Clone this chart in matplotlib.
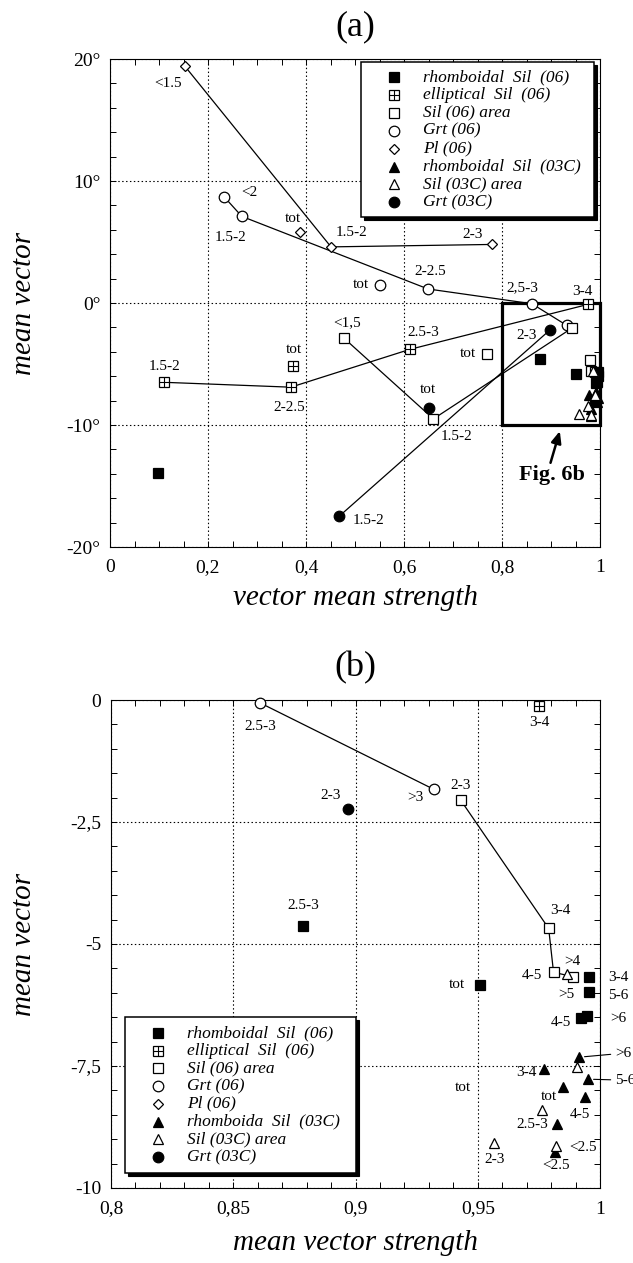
import matplotlib
matplotlib.use('Agg')
import matplotlib.pyplot as plt
from matplotlib.patches import Rectangle
from matplotlib.lines import Line2D
from matplotlib.ticker import MultipleLocator

plt.rcParams['font.family'] = ['Liberation Serif', 'DejaVu Serif']

W, H = 633, 1263

# ======================= DATA =======================
# rhomboidal Sil (06)
rsil06_x = [0.098, 0.8785, 0.951, 0.9955, 0.9955, 0.9922, 0.9947]
rsil06_y = [-13.9, -4.63, -5.84, -5.68, -5.99, -6.52, -6.48]
rsil06_id = ['', '2.5-3', 'tot', '3-4', '5-6', '4-5', '>6']
# elliptical Sil (06)
esil06_x = [0.110, 0.369, 0.612, 0.975, 0.373]
esil06_y = [-6.5, -6.9, -3.8, -0.12, -5.2]
esil06_id = ['1.5-2', '2-2.5', '2.5-3', '3-4', 'tot']
# Sil (06) area
sil06_x = [0.478, 0.660, 0.943, 0.769, 0.979, 0.981, 0.989]
sil06_y = [-2.9, -9.5, -2.05, -4.2, -4.68, -5.58, -5.67]
sil06_id = ['<1,5', '1.5-2', '2-3', 'tot', '3-4', '4-5', '>4']
# Grt (06)
grt06_x = [0.233, 0.269, 0.649, 0.861, 0.932, 0.551]
grt06_y = [8.7, 7.1, 1.15, -0.06, -1.83, 1.5]
grt06_id = ['<2', '1.5-2', '2-2.5', '2,5-3', '>3', 'tot']
# Pl (06)
pl06_x = [0.153, 0.451, 0.780, 0.388]
pl06_y = [19.4, 4.6, 4.8, 5.8]
pl06_id = ['<1.5', '1.5-2', '2-3', 'tot']
# rhomboidal Sil (03C)
rsil03_x = [0.9914, 0.9771, 0.9951, 0.985, 0.9939, 0.9823, 0.9815]
rsil03_y = [-7.32, -7.56, -7.77, -7.94, -8.14, -8.68, -9.26]
rsil03_id = ['>6', '3-4', '5-6', 'tot', '4-5', '2.5-3', '<2.5']
# Sil (03C) area
sil03_x = [0.9865, 0.9906, 0.9762, 0.982, 0.9568]
sil03_y = [-5.61, -7.52, -8.41, -9.14, -9.07]
sil03_id = ['', '', 'tot', '<2.5', '2-3']
# Grt (03C)
grt03_x = [0.468, 0.897, 0.651]
grt03_y = [-17.47, -2.24, -8.6]
grt03_id = ['1.5-2', '2-3', 'tot']

# connected sequences
paths_a = [('pl06', ['<1.5', '1.5-2', '2-3']),
           ('grt06', ['<2', '1.5-2', '2-2.5', '2,5-3', '>3']),
           ('esil06', ['1.5-2', '2-2.5', '2.5-3', '3-4']),
           ('sil06', ['<1,5', '1.5-2', '2-3']),
           ('grt03', ['1.5-2', '2-3'])]
paths_b = [('grt06', ['2,5-3', '>3']),
           ('sil06', ['2-3', '3-4', '4-5', '>4'])]

legend_a = ['rhomboidal  Sil  (06)', 'elliptical  Sil  (06)', 'Sil (06) area', 'Grt (06)',
            'Pl (06)', 'rhomboidal  Sil  (03C)', 'Sil (03C) area', 'Grt (03C)']
legend_b = ['rhomboidal  Sil  (06)', 'elliptical  Sil  (06)', 'Sil (06) area', 'Grt (06)',
            'Pl (06)', 'rhomboida  Sil  (03C)', 'Sil (03C) area', 'Grt (03C)']

a_xticks = [0, 0.2, 0.4, 0.6, 0.8, 1.0]
a_xticklabels = ['0', '0,2', '0,4', '0,6', '0,8', '1']
a_yticks = [-20, -10, 0, 10, 20]
a_yticklabels = ['-20°', '-10°', '0°', '10°', '20°']
b_xticks = [0.8, 0.85, 0.9, 0.95, 1.0]
b_xticklabels = ['0,8', '0,85', '0,9', '0,95', '1']
b_yticks = [-10, -7.5, -5, -2.5, 0]
b_yticklabels = ['-10', '-7,5', '-5', '-2,5', '0']

# ======================= LAYOUT / STYLE =======================
SERIES = {
    'rsil06': (rsil06_x, rsil06_y, rsil06_id),
    'esil06': (esil06_x, esil06_y, esil06_id),
    'sil06': (sil06_x, sil06_y, sil06_id),
    'grt06': (grt06_x, grt06_y, grt06_id),
    'pl06': (pl06_x, pl06_y, pl06_id),
    'rsil03': (rsil03_x, rsil03_y, rsil03_id),
    'sil03': (sil03_x, sil03_y, sil03_id),
    'grt03': (grt03_x, grt03_y, grt03_id),
}
KEYS = ['rsil06', 'esil06', 'sil06', 'grt06', 'pl06', 'rsil03', 'sil03', 'grt03']
DRAW_ORDER = ['grt06', 'pl06', 'esil06', 'sil06', 'rsil06', 'grt03', 'rsil03', 'sil03']
STYLE = {
    'rsil06': dict(marker='s', ms=7.2, mfc='k'),
    'esil06': dict(marker='s', ms=7.2, mfc='w', cross=True),
    'sil06': dict(marker='s', ms=7.2, mfc='w'),
    'grt06': dict(marker='o', ms=7.6, mfc='w'),
    'pl06': dict(marker='D', ms=5.0, mfc='w'),
    'rsil03': dict(marker='^', ms=7.4, mfc='k'),
    'sil03': dict(marker='^', ms=7.4, mfc='w'),
    'grt03': dict(marker='o', ms=7.6, mfc='k'),
}

# label placement: (series, point id, text, dx px, dy px, leader)
labels_a = [
    ('pl06', '<1.5', '<1.5', -17, -17, False),
    ('pl06', '1.5-2', '1.5-2', 21, 14, False),
    ('pl06', '2-3', '2-3', -20, 10, False),
    ('pl06', 'tot', 'tot', -7, 14, False),
    ('grt06', '<2', '<2', 25, 4, False),
    ('grt06', '1.5-2', '1.5-2', -11, -21, False),
    ('grt06', '2-2.5', '2-2.5', 2, 17, False),
    ('grt06', '2,5-3', '2,5-3', -10, 16, False),
    ('grt06', 'tot', 'tot', -19, 0, False),
    ('esil06', '1.5-2', '1.5-2', 1, 16, False),
    ('esil06', '2-2.5', '2-2.5', -2, -20, False),
    ('esil06', '2.5-3', '2.5-3', 13, 17, False),
    ('esil06', '3-4', '3-4', -5, 13, False),
    ('esil06', 'tot', 'tot', 1, 17, False),
    ('sil06', '<1,5', '<1,5', 3, 16, False),
    ('sil06', '1.5-2', '1.5-2', 23, -18, False),
    ('sil06', 'tot', 'tot', -19, 1, False),
    ('grt03', '1.5-2', '1.5-2', 29, -4, False),
    ('grt03', 'tot', 'tot', -1, 18, False),
    ('grt03', '2-3', '2-3', -23, -5, False),
]
labels_b = [
    ('grt06', '2,5-3', '2.5-3', 0, -24, False),
    ('grt06', '>3', '>3', -18, -8, False),
    ('grt03', '2-3', '2-3', -18, 14, False),
    ('esil06', '3-4', '3-4', 0, -17, False),
    ('sil06', '2-3', '2-3', 0, 15, False),
    ('sil06', '3-4', '3-4', 12, 18, False),
    ('sil06', '4-5', '4-5', -22, -3, False),
    ('sil06', '>4', '>4', -1, 15, False),
    ('rsil06', '2.5-3', '2.5-3', 0, 20, False),
    ('rsil06', 'tot', 'tot', -23, 0, False),
    ('rsil06', '3-4', '3-4', 29, 0, False),
    ('rsil06', '5-6', '5-6', 29, -3, False),
    ('rsil06', '5-6', '>5', -23, -2, False),
    ('rsil06', '4-5', '4-5', -20, -4, False),
    ('rsil06', '>6', '>6', 31, -2, False),
    ('rsil03', '>6', '>6', 44, 4, True),
    ('rsil03', '3-4', '3-4', -18, -4, False),
    ('rsil03', '5-6', '5-6', 37, -1, True),
    ('rsil03', 'tot', 'tot', -100, 0, False),
    ('rsil03', '4-5', '4-5', -5, -17, False),
    ('rsil03', '2.5-3', '2.5-3', -24, -1, False),
    ('rsil03', '<2.5', '<2.5', 1, -14, False),
    ('sil03', 'tot', 'tot', 7, 14, False),
    ('sil03', '<2.5', '<2.5', 27, -1, False),
    ('sil03', '2-3', '2-3', 0, -17, False),
]

PT = 0.72  # points per pixel (dpi 100)

fig = plt.figure(figsize=(W / 100, H / 100), dpi=100)
axA = fig.add_axes([110 / W, 1 - 547 / H, 490 / W, 488 / H])
axB = fig.add_axes([111 / W, 1 - 1188 / H, 489 / W, 488 / H])


def setup(ax, xlim, ylim, xt, xtl, yt, ytl, xminor, yminor):
    ax.set_xlim(*xlim)
    ax.set_ylim(*ylim)
    ax.set_xticks(xt)
    ax.set_xticklabels(xtl)
    ax.set_yticks(yt)
    ax.set_yticklabels(ytl)
    ax.xaxis.set_minor_locator(MultipleLocator(xminor))
    ax.yaxis.set_minor_locator(MultipleLocator(yminor))
    ax.tick_params(which='both', direction='in', top=True, right=True,
                   length=4, width=0.7, labelsize=14)
    ax.tick_params(axis='x', pad=9)
    ax.tick_params(axis='y', pad=7)
    ax.grid(True, which='major', ls=(0, (1.3, 2.2)), lw=0.8, color='k')
    for s in ax.spines.values():
        s.set_linewidth(0.8)


setup(axA, (0, 1), (-20, 20), a_xticks, a_xticklabels, a_yticks, a_yticklabels, 0.05, 2)
setup(axB, (0.8, 1), (-10, 0), b_xticks, b_xticklabels, b_yticks, b_yticklabels, 0.01, 0.5)


def draw_panel(ax, paths, labels, xlim, ylim):
    for key, seq in paths:
        x, y, ids = SERIES[key]
        xs = [x[ids.index(p)] for p in seq]
        ys = [y[ids.index(p)] for p in seq]
        ax.plot(xs, ys, color='k', lw=0.9, zorder=2)
    for key in DRAW_ORDER:
        x, y, ids = SERIES[key]
        pts = [(a, b) for a, b in zip(x, y)
               if xlim[0] <= a <= xlim[1] and ylim[0] <= b <= ylim[1]]
        if not pts:
            continue
        xs, ys = zip(*pts)
        st = STYLE[key]
        ax.plot(xs, ys, ls='none', marker=st['marker'], ms=st['ms'],
                mfc=st['mfc'], mec='k', mew=0.9, zorder=3, clip_on=False)
        if st.get('cross'):
            ax.plot(xs, ys, ls='none', marker='+', ms=st['ms'], mec='k',
                    mew=0.8, zorder=3.1, clip_on=False)
    for key, pid, txt, dx, dy, leader in labels:
        x, y, ids = SERIES[key]
        i = ids.index(pid)
        kw = {}
        if leader:
            kw['arrowprops'] = dict(arrowstyle='-', lw=0.8, color='k',
                                    shrinkA=1, shrinkB=4)
        ax.annotate(txt, (x[i], y[i]), xytext=(dx * PT, dy * PT),
                    textcoords='offset points', ha='center', va='center',
                    fontsize=11, zorder=4, annotation_clip=False, **kw)


draw_panel(axA, paths_a, labels_a, (0, 1), (-20, 20))
draw_panel(axB, paths_b, labels_b, (0.8, 1), (-10, 0))

# Fig. 6b box and arrow in panel (a)
axA.add_patch(Rectangle((0.8, -10), 0.2, 10, fill=False, lw=2.3, ec='k',
                        zorder=2.5, clip_on=False))
axA.annotate('', xy=(0.918, -10.5), xytext=(0.899, -13.1),
             arrowprops=dict(arrowstyle='-|>,head_length=0.7,head_width=0.3',
                             lw=1.8, color='k', shrinkA=0, shrinkB=0))
axA.text(0.901, -14.1, 'Fig. 6b', fontweight='bold', fontsize=16,
         ha='center', va='center')


def legend_box(x0, y0, x1, y1, mx, tx, ry0, dy, labels):
    fig.add_artist(Rectangle((x0 / W + 3 / W, 1 - (y1 + 3) / H), (x1 - x0) / W, (y1 - y0) / H,
                             transform=fig.transFigure, fc='k', ec='k', lw=0.8, zorder=5))
    fig.add_artist(Rectangle((x0 / W, 1 - y1 / H), (x1 - x0) / W, (y1 - y0) / H,
                             transform=fig.transFigure, fc='w', ec='k', lw=1.1, zorder=5.1))
    for i, (key, lab) in enumerate(zip(KEYS, labels)):
        ry = ry0 + i * dy
        st = STYLE[key]
        fig.add_artist(Line2D([mx / W], [1 - ry / H], transform=fig.transFigure,
                              ls='none', marker=st['marker'], ms=st['ms'],
                              mfc=st['mfc'], mec='k', mew=0.9, zorder=5.2))
        if st.get('cross'):
            fig.add_artist(Line2D([mx / W], [1 - ry / H], transform=fig.transFigure,
                                  ls='none', marker='+', ms=st['ms'], mec='k',
                                  mew=0.8, zorder=5.3))
        fig.text(tx / W, 1 - ry / H, lab, style='italic', fontsize=12.5,
                 ha='left', va='center', zorder=5.4)


legend_box(361, 62, 594, 217, 394, 423, 77, 17.9, legend_a)
legend_box(125, 1017, 356, 1173, 158, 187, 1033, 17.7, legend_b)

# titles and axis labels
fig.text(355 / W, 1 - 27 / H, '(a)', fontsize=26, ha='center', va='center')
fig.text(355 / W, 1 - 668 / H, '(b)', fontsize=26, ha='center', va='center')
fig.text(355 / W, 1 - 598 / H, 'vector mean strength', style='italic',
         fontsize=21, ha='center', va='center')
fig.text(355 / W, 1 - 1243 / H, 'mean vector strength', style='italic',
         fontsize=21, ha='center', va='center')
fig.text(24 / W, 1 - 303 / H, 'mean vector', style='italic', rotation=90,
         fontsize=21, ha='center', va='center')
fig.text(24 / W, 1 - 944 / H, 'mean vector', style='italic', rotation=90,
         fontsize=21, ha='center', va='center')

fig.savefig('out.png', dpi=100)
